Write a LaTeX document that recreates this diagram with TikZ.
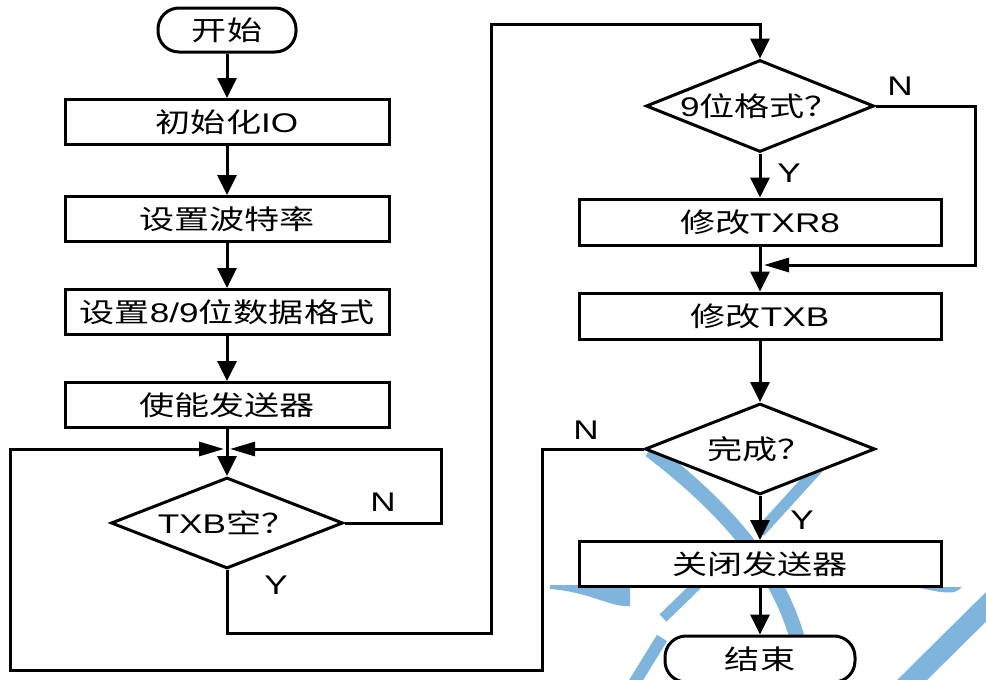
\documentclass[tikz,border=0pt]{standalone}
\usepackage{fontspec}
\setmainfont{Liberation Sans}[FakeStretch=1.3]
\newfontfamily\cjk{Noto Sans CJK SC}[FakeStretch=1.3]
\usetikzlibrary{arrows.meta,shapes.geometric,shapes.misc}
\definecolor{wmblue}{RGB}{127,181,220}
\newcommand\cn[1]{{\cjk #1}}
\begin{document}
\begin{tikzpicture}[x=1pt,y=-1pt,
  every node/.style={font=\fontsize{27pt}{31pt}\selectfont},
  base/.style={draw=black, line width=3pt, fill=white, inner sep=0pt},
  procbox/.style={base, rectangle, minimum width=324pt, minimum height=45pt},
  termbox/.style={base, rectangle, rounded corners=21pt, minimum height=44pt},
  decbox/.style={base, diamond, aspect=2.5},
  conn/.style={line width=3pt},
  varr/.style={conn, -{Triangle[length=20pt,width=19pt]}},
  harr/.style={conn, -{Triangle[length=25pt,width=14pt]}},
  lbl/.style={inner sep=0pt},
  wm/.style={draw=wmblue, line cap=butt}
]
\fill[white] (0,0) rectangle (986,680);
\useasboundingbox (0,0) rectangle (986,680);
% watermark
\begin{scope}
\clip (0,0) rectangle (986,680);
\draw[wm, line width=15pt] (650,450) .. controls (735,515) and (800,590) .. (806,690);
\draw[wm, line width=11pt] (830,455) -- (760,532);
\draw[wm, line width=10pt] (697,585) -- (663,618);
\fill[wmblue] (550,585) .. controls (580,585) .. (630,585) -- (630,606) .. controls (612,608) and (590,592) .. (550,589) -- cycle;
\fill[wmblue] (915,587) -- (962,587) .. controls (955,593) .. (940,592) -- cycle;
\draw[wm, line width=21pt] (1000,593) -- (902,690);
\draw[wm, line width=12pt] (662,638) -- (630,690);
\end{scope}
% nodes
\node[termbox, minimum width=138pt] (start) at (227,30) {\cn{开始}};
\node[procbox] (io) at (227,122) {\cn{初始化}IO};
\node[procbox] (baud) at (227,219) {\cn{设置波特率}};
\node[procbox] (fmt) at (227,312) {\cn{设置}8/9\cn{位数据格式}};
\node[procbox] (en) at (227,405) {\cn{使能发送器}};
\node[decbox, minimum width=232pt, minimum height=91pt] (d1) at (227,523) {TXB\cn{空？}};
\node[decbox, minimum width=228pt, minimum height=92pt] (d2) at (760,106) {9\cn{位格式？}};
\node[procbox, minimum width=362pt, minimum height=46pt] (txr8) at (760,222) {\cn{修改}TXR8};
\node[procbox, minimum width=362pt, minimum height=46pt] (txb) at (760,316) {\cn{修改}TXB};
\node[decbox, minimum width=230pt, minimum height=91pt] (d3) at (760,449) {\cn{完成？}};
\node[procbox, minimum width=362pt] (close) at (760,564) {\cn{关闭发送器}};
\node[termbox, minimum width=190pt, minimum height=46pt] (end) at (760,659) {\cn{结束}};
% junction coordinates
\coordinate (Jl) at (224,449);
\coordinate (Jr) at (230,449);
\coordinate (Mr) at (764,265);
% connectors
\draw[varr] (start) -- (io);
\draw[varr] (io) -- (baud);
\draw[varr] (baud) -- (fmt);
\draw[varr] (fmt) -- (en);
\draw[varr] (en) -- (d1);
\draw[harr] (d1.east) -- (441,523) -- (441,449) -- (Jr);
\draw[varr] (d1.south) -- (227,633) -- (491,633) -- (491,24) -- (760,24) -- (d2.north);
\draw[harr] (d2.east) -- (975,106) -- (975,265) -- (Mr);
\draw[varr] (d2) -- (txr8);
\draw[varr] (txr8) -- (txb);
\draw[varr] (txb) -- (d3);
\draw[varr] (d3) -- (close);
\draw[varr] (close) -- (end);
\draw[harr] (d3.west) -- (542,449) -- (542,670) -- (10,670) -- (10,449) -- (Jl);
% labels
\node[lbl] (n1) at (383,502) {N};
\node[lbl] (y1) at (276,585) {Y};
\node[lbl] (n2) at (900,86) {N};
\node[lbl] (y2) at (789,173) {Y};
\node[lbl] (n3) at (586,430) {N};
\node[lbl] (y3) at (802,520) {Y};
\end{tikzpicture}
\end{document}
